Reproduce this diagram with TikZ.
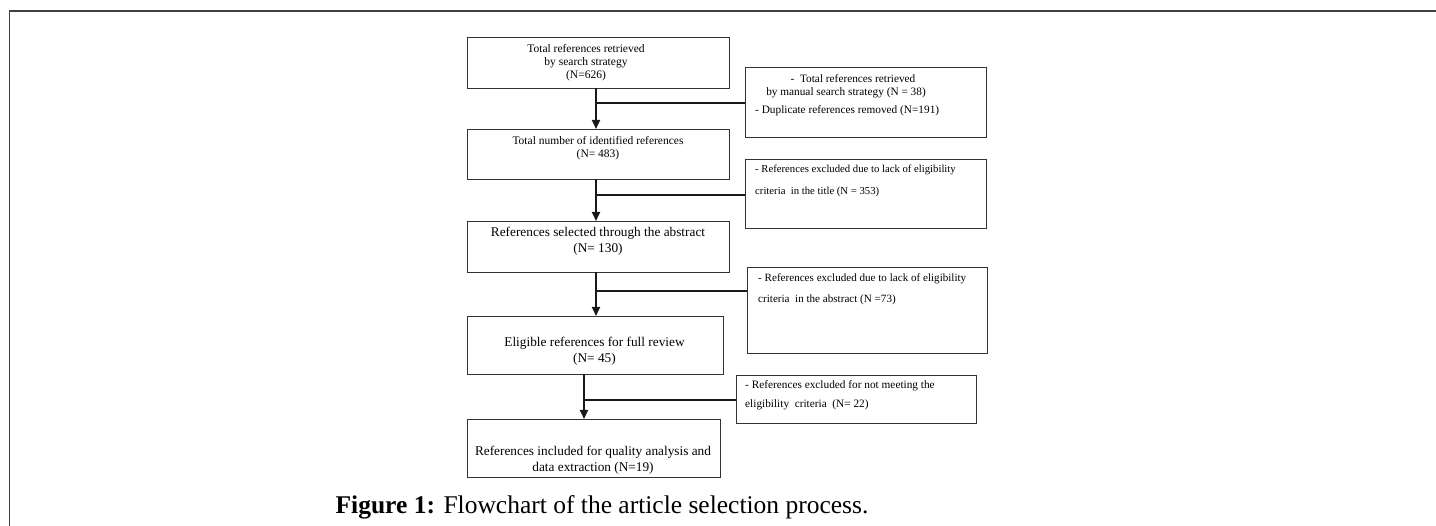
\documentclass[tikz,border=0pt]{standalone}
\usepackage{fontspec}
\setmainfont{Liberation Serif}
\usetikzlibrary{arrows.meta}
\begin{document}
\begin{tikzpicture}[x=1pt,y=-1pt,
  box/.style={draw=black!80, line width=0.9pt, rectangle, inner sep=0pt, outer sep=0pt},
  flow/.style={line width=1.8pt, draw=black!90},
  arr/.style={flow, -{Triangle[width=8pt,length=9pt]}},
  ts/.style={inner sep=0pt, font=\fontsize{11.5}{13}\selectfont, align=center},
  tl/.style={inner sep=0pt, font=\fontsize{13.3}{15.5}\selectfont, align=center},
  rs/.style={inner sep=0pt, align=left},
  frame/.style={line width=1.6pt, draw=black!75},
]
\useasboundingbox (0,0) rectangle (1436,526);
\draw[frame] (1436,11) -- (9.5,11) -- (9.5,526);

% main boxes
\node[box, minimum width=262pt, minimum height=51pt] (b1) at (598,62.5) {};
\node[box, minimum width=262pt, minimum height=50pt] (b2) at (598,154) {};
\node[box, minimum width=262pt, minimum height=51pt] (b3) at (598,246.5) {};
\node[box, minimum width=256pt, minimum height=58pt] (b4) at (595,345) {};
\node[box, minimum width=253pt, minimum height=58pt] (b5) at (593.5,448) {};
% side boxes
\node[box, minimum width=241pt, minimum height=70pt] (r1) at (865.5,102) {};
\node[box, minimum width=241pt, minimum height=69pt] (r2) at (865.5,193.5) {};
\node[box, minimum width=240pt, minimum height=86pt] (r3) at (867,310) {};
\node[box, minimum width=240pt, minimum height=48pt] (r4) at (856,399) {};

% texts
\node[ts] (t1) at (586,63) {Total references retrieved\\by search strategy\\(N=626)};
\node[ts] (t2) at (598,148.5) {Total number of identified references\\(N= 483)};
\node[tl] (t3) at (598,241) {References selected through the abstract\\(N= 130)};
\node[tl] (t4) at (594.5,351) {Eligible references for full review\\(N= 45)};
\node[tl] (t5) at (593,460) {References included for quality analysis and\\data extraction (N=19)};

\node[inner sep=0pt, font=\fontsize{11.3}{13}\selectfont] (s1a) at (853,79) {- \ Total references retrieved};
\node[inner sep=0pt, font=\fontsize{11.3}{13}\selectfont] (s1b) at (846,93) {by manual search strategy (N = 38)};
\node[inner sep=0pt, font=\fontsize{11.3}{13}\selectfont, anchor=west] (s1c) at (755,111) {- Duplicate references removed (N=191)};
\node[rs, font=\fontsize{10.7}{22}\selectfont, anchor=west] (s2) at (755,181) {- References excluded due to lack of eligibility\\criteria \ in the title (N = 353)};
\node[rs, font=\fontsize{11.1}{21}\selectfont, anchor=west] (s3) at (758,289.5) {- References excluded due to lack of eligibility\\criteria \ in the abstract (N =73)};
\node[rs, font=\fontsize{11.3}{19}\selectfont, anchor=west] (s4) at (745,395.5) {- References excluded for not meeting the\\eligibility \ criteria \ (N= 22)};

% connectors
\coordinate (x1) at (596,0);
\coordinate (x4) at (584,0);
\coordinate (j1) at (596,103);
\coordinate (j2) at (596,195);
\coordinate (j3) at (596,291);
\coordinate (j4) at (584,400);
\draw[arr] (b1.south -| x1) -- (b2.north -| x1);
\draw[arr] (b2.south -| x1) -- (b3.north -| x1);
\draw[arr] (b3.south -| x1) -- (b4.north -| x1);
\draw[arr] (b4.south -| x4) -- (b5.north -| x4);
\draw[flow] (r1.west |- j1) -- (j1);
\draw[flow] (r2.west |- j2) -- (j2);
\draw[flow] (r3.west |- j3) -- (j3);
\draw[flow] (r4.west |- j4) -- (j4);

% caption
\node[inner sep=0pt, font=\fontsize{25.5}{30}\selectfont] (cap) at (602,507) {\textbf{Figure 1:} Flowchart of the article selection process.};
\end{tikzpicture}
\end{document}
